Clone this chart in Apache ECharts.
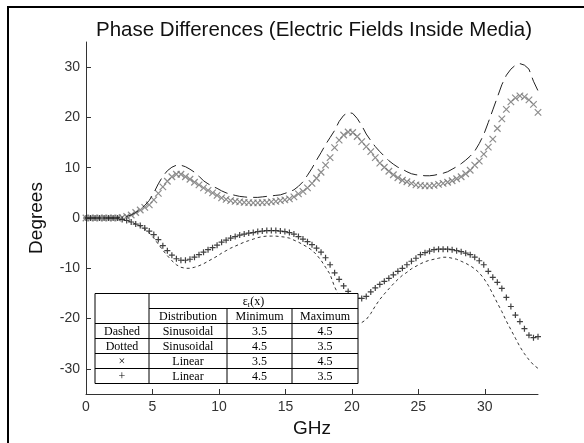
<!DOCTYPE html>
<html>
<head>
<meta charset="utf-8">
<script src="https://cdn.jsdelivr.net/npm/echarts@6/dist/echarts.min.js"></script>
<style>
  html, body { margin: 0; padding: 0; background: #fff; }
  #chart { width: 584px; height: 443px; }
</style>
</head>
<body>
<div id="chart"></div>
<script>
// Frequency samples (GHz)
const freq = [
  0, 0.34, 0.68, 1.02, 1.36, 1.7, 2.04, 2.38, 2.72, 3.06,
  3.4, 3.74, 4.08, 4.42, 4.76, 5.1, 5.44, 5.78, 6.12, 6.46,
  6.8, 7.14, 7.48, 7.82, 8.16, 8.5, 8.84, 9.18, 9.52, 9.86,
  10.2, 10.54, 10.88, 11.22, 11.56, 11.9, 12.24, 12.58, 12.92, 13.26,
  13.6, 13.94, 14.28, 14.62, 14.96, 15.3, 15.64, 15.98, 16.32, 16.66,
  17, 17.34, 17.68, 18.02, 18.36, 18.7, 19.04, 19.38, 19.72, 20.06,
  20.4, 20.74, 21.08, 21.42, 21.76, 22.1, 22.44, 22.78, 23.12, 23.46,
  23.8, 24.14, 24.48, 24.82, 25.16, 25.5, 25.84, 26.18, 26.52, 26.86,
  27.2, 27.54, 27.88, 28.22, 28.56, 28.9, 29.24, 29.58, 29.92, 30.26,
  30.6, 30.94, 31.28, 31.62, 31.96, 32.3, 32.64, 32.98, 33.32, 33.66,
  34
];

// Sinusoidal profile, eps 3.5 -> 4.5 (dashed)
const dashedPhase = [
  0, 0, 0, 0, 0, 0, 0, 0, 0.1, 0.3,
  0.6, 1.1, 1.7, 2.5, 3.5, 5.0, 6.8, 8.3, 9.4, 10.1,
  10.5, 10.5, 10.2, 9.7, 9.1, 8.3, 7.4, 6.8, 6.3, 5.9,
  5.4, 5.0, 4.7, 4.5, 4.3, 4.2, 4.1, 4.1, 4.1, 4.2,
  4.3, 4.4, 4.5, 4.6, 4.9, 5.2, 5.6, 6.3, 7.2, 8.5,
  9.9, 11.5, 13.0, 14.6, 16.0, 17.4, 19.2, 20.4, 21.0, 20.8,
  19.8, 18.4, 16.7, 15.4, 14.2, 13.2, 12.3, 11.4, 10.7, 10.1,
  9.7, 9.2, 8.8, 8.6, 8.5, 8.4, 8.4, 8.5, 8.7, 8.9,
  9.2, 9.7, 10.2, 10.8, 11.5, 12.3, 13.3, 14.8, 16.6, 19.0,
  21.5, 24.0, 26.5, 28.4, 29.6, 30.4, 30.7, 30.4, 29.6, 27.2,
  25.3
];

// Sinusoidal profile, eps 4.5 -> 3.5 (dotted)
const dottedPhase = [
  0, 0, 0, 0, 0, 0, 0, 0, -0.3, -0.5,
  -0.8, -1.2, -1.6, -2.2, -3.0, -4.0, -5.2, -6.4, -7.5, -8.5,
  -9.3, -9.8, -10.0, -10.0, -9.8, -9.5, -9.1, -8.6, -8.1, -7.6,
  -7.0, -6.5, -6.0, -5.6, -5.2, -4.8, -4.5, -4.2, -3.9, -3.7,
  -3.6, -3.6, -3.6, -3.7, -3.8, -4.0, -4.4, -4.8, -5.3, -5.8,
  -6.4, -7.3, -8.4, -9.8, -11.2, -13.7, -15.5, -17.5, -19.3, -20.5,
  -21.0, -20.8, -20.2, -19.0, -17.5, -16.2, -15.1, -14.1, -13.1, -12.2,
  -11.4, -10.8, -10.1, -9.6, -9.1, -8.7, -8.4, -8.2, -8.0, -7.8,
  -7.8, -8.0, -8.2, -8.6, -9.0, -9.5, -10.1, -10.9, -12.0, -13.4,
  -15.1, -16.9, -18.6, -20.5, -22.2, -23.9, -25.6, -27.0, -28.2, -29.2,
  -29.9
];

// Linear profile, eps 3.5 -> 4.5 (x markers)
const crossPhase = [
  0, 0, 0, 0, 0, 0, 0, 0, 0.1, 0.3,
  0.6, 1.1, 1.6, 2.1, 2.6, 3.6, 4.9, 6.2, 7.3, 8.2,
  8.7, 8.7, 8.2, 7.7, 7.1, 6.6, 6.0, 5.5, 5.0, 4.5,
  4.0, 3.7, 3.45, 3.3, 3.2, 3.1, 3.05, 3.0, 3.0, 3.05,
  3.1, 3.2, 3.3, 3.45, 3.6, 3.8, 4.2, 4.8, 5.3, 6.0,
  6.9, 7.9, 9.1, 10.5, 12.0, 14.0, 15.5, 16.5, 17.1, 17.0,
  16.2, 15.2, 14.2, 13.2, 12.0, 10.9, 10.1, 9.3, 8.6, 8.0,
  7.5, 7.2, 6.9, 6.6, 6.5, 6.4, 6.4, 6.5, 6.7, 6.9,
  7.1, 7.4, 7.8, 8.2, 8.8, 9.5, 10.5, 11.3, 12.7, 14.1,
  15.7, 17.8, 19.7, 21.6, 23.1, 23.9, 24.3, 24.1, 23.5, 22.6,
  21.0
];

// Linear profile, eps 4.5 -> 3.5 (+ markers)
const plusPhase = [
  0, 0, 0, 0, 0, 0, 0, 0, -0.3, -0.5,
  -0.8, -1.2, -1.5, -2.0, -2.6, -3.3, -4.3, -5.5, -6.5, -7.4,
  -8.1, -8.4, -8.4, -8.2, -7.8, -7.3, -6.8, -6.3, -5.9, -5.4,
  -4.8, -4.4, -4.0, -3.7, -3.4, -3.2, -3.0, -2.9, -2.7, -2.6,
  -2.5, -2.5, -2.5, -2.6, -2.7, -2.9, -3.2, -3.7, -4.2, -4.7,
  -5.3, -6.0, -6.8, -7.9, -9.3, -10.9, -12.2, -13.5, -14.6, -15.5,
  -16.0, -16.0, -15.6, -14.7, -13.9, -13.2, -12.6, -12.0, -11.3, -10.6,
  -10.0, -9.3, -8.6, -8.0, -7.3, -6.9, -6.6, -6.3, -6.2, -6.2,
  -6.2, -6.3, -6.5, -6.7, -7.0, -7.3, -7.8, -8.5, -9.3, -10.6,
  -11.8, -12.8, -14.0, -15.8, -17.6, -19.3, -20.6, -22.0, -23.3, -23.8,
  -23.6
];

const xTicks = [0, 5, 10, 15, 20, 25, 30];
const yTicks = [-30, -20, -10, 0, 10, 20, 30];

// Legend table contents
const tableTitle = 'ε{sub|r}(x)';
const tableHead = ['Distribution', 'Minimum', 'Maximum'];
const tableRows = [
  ['Dashed', 'Sinusoidal', '3.5', '4.5'],
  ['Dotted', 'Sinusoidal', '4.5', '3.5'],
  ['×', 'Linear', '3.5', '4.5'],
  ['+', 'Linear', '4.5', '3.5']
];

const pairs = vals => freq.map((f, i) => [f, vals[i]]);

const chart = echarts.init(document.getElementById('chart'), null, { renderer: 'canvas' });

// table geometry
const colX = [95, 149, 227, 292, 358];
const tTop = 293.5, rowH = 15;
const nRows = 2 + tableRows.length;
const tBottom = tTop + nRows * rowH;
const serif = '"Liberation Serif", "Times New Roman", serif';

const tableEls = [];
tableEls.push({
  type: 'rect', z: 100,
  shape: { x: colX[0], y: tTop, width: colX[4] - colX[0], height: tBottom - tTop },
  style: { fill: '#fff', stroke: '#000', lineWidth: 1 }
});
function hLine(x1, x2, y) {
  tableEls.push({ type: 'line', z: 101, shape: { x1, y1: y, x2, y2: y }, style: { stroke: '#000', lineWidth: 1 } });
}
function vLine(x, y1, y2) {
  tableEls.push({ type: 'line', z: 101, shape: { x1: x, y1, x2: x, y2 }, style: { stroke: '#000', lineWidth: 1 } });
}
hLine(colX[1], colX[4], tTop + rowH);
for (let r = 2; r < nRows; r++) hLine(colX[0], colX[4], tTop + r * rowH);
vLine(colX[1], tTop, tBottom);
vLine(colX[2], tTop + rowH, tBottom);
vLine(colX[3], tTop + rowH, tBottom);
function cellText(text, cx, cy, rich) {
  tableEls.push({
    type: 'text', z: 102, x: cx, y: cy,
    style: {
      text, fill: '#000', font: '12px ' + serif, align: 'center', verticalAlign: 'middle',
      rich: rich || undefined
    }
  });
}
cellText(tableTitle, (colX[1] + colX[4]) / 2, tTop + rowH / 2 + 0.5, {
  sub: { font: '8px ' + serif, verticalAlign: 'bottom', padding: [6, 0, 0, 0] }
});
tableHead.forEach((h, c) => cellText(h, (colX[c + 1] + colX[c + 2]) / 2, tTop + rowH * 1.5 + 0.5));
tableRows.forEach((row, r) => {
  row.forEach((v, c) => cellText(v, (colX[c] + colX[c + 1]) / 2, tTop + rowH * (r + 2.5) + 0.5));
});

const sans = '"Liberation Sans", Arial, sans-serif';

chart.setOption({
  animation: false,
  backgroundColor: '#fff',
  title: {
    text: 'Phase Differences (Electric Fields Inside Media)',
    left: 309, top: 14, textAlign: 'center',
    textStyle: { fontFamily: sans, fontSize: 20.5, fontWeight: 'normal', color: '#111', lineHeight: 22 }
  },
  grid: { left: 86, right: 46, top: 42, bottom: 45 },
  xAxis: {
    type: 'value', min: 0, max: 34,
    name: 'GHz', nameLocation: 'middle', nameGap: 25,
    nameTextStyle: { fontFamily: sans, fontSize: 19, color: '#111' },
    axisLine: { onZero: false, lineStyle: { color: '#333', width: 1 } },
    axisTick: { show: true, inside: true, length: 5, customValues: xTicks, lineStyle: { color: '#333' } },
    axisLabel: { customValues: xTicks, fontFamily: sans, fontSize: 14, color: '#333', margin: 6 },
    splitLine: { show: false }
  },
  yAxis: {
    type: 'value', min: -35, max: 35,
    name: 'Degrees', nameLocation: 'middle', nameGap: 40,
    nameTextStyle: { fontFamily: sans, fontSize: 19, color: '#111' },
    axisLine: { show: true, onZero: false, lineStyle: { color: '#333', width: 1 } },
    axisTick: { show: true, inside: true, length: 5, customValues: yTicks, lineStyle: { color: '#333' } },
    axisLabel: { customValues: yTicks, fontFamily: sans, fontSize: 14, color: '#333', margin: 6 },
    splitLine: { show: false }
  },
  series: [
    {
      type: 'line', data: pairs(dashedPhase), showSymbol: false, symbol: 'none',
      lineStyle: { color: '#222', width: 1, type: [14, 6] }
    },
    {
      type: 'line', data: pairs(dottedPhase), showSymbol: false, symbol: 'none',
      lineStyle: { color: '#333', width: 1, type: [3, 3] }
    },
    {
      type: 'scatter', data: pairs(crossPhase),
      symbol: 'path://M0,0L10,10M10,0L0,10', symbolSize: 6.5,
      itemStyle: { color: 'none', borderColor: '#707070', borderWidth: 1.2 }
    },
    {
      type: 'scatter', data: pairs(plusPhase),
      symbol: 'path://M5,0L5,10M0,5L10,5', symbolSize: 6,
      itemStyle: { color: 'none', borderColor: '#111', borderWidth: 1.2 }
    }
  ],
  graphic: [
    {
      type: 'rect', z: 0, silent: true,
      shape: { x: 8, y: 7, width: 700, height: 700 },
      style: { fill: 'none', stroke: '#000', lineWidth: 2 }
    },
    { type: 'group', z: 100, children: tableEls }
  ]
});
</script>
</body>
</html>
